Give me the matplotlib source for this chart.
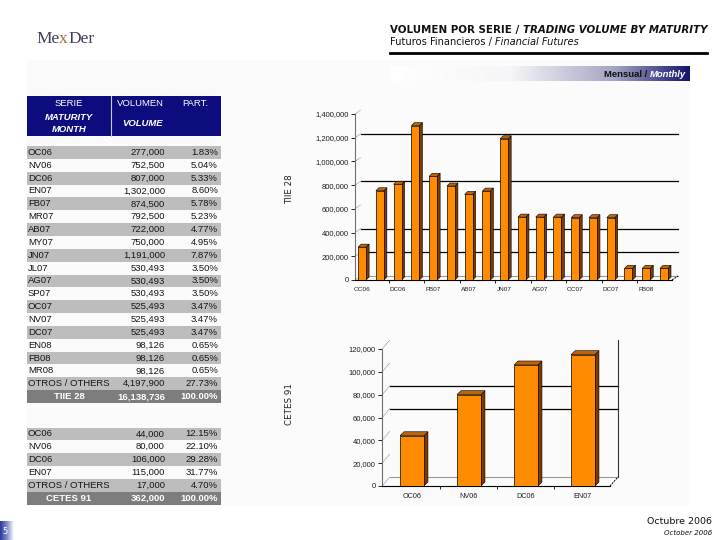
import matplotlib
matplotlib.use('Agg')
import matplotlib.pyplot as plt
import numpy as np
from matplotlib.colors import LinearSegmentedColormap
from matplotlib.patches import Rectangle
from matplotlib.ticker import FuncFormatter

# TIIE 28 futures, volume by maturity
series_tiie = ['OC06', 'NV06', 'DC06', 'EN07', 'FB07', 'MR07', 'AB07', 'MY07', 'JN07',
               'JL07', 'AG07', 'SP07', 'OC07', 'NV07', 'DC07', 'EN08', 'FB08', 'MR08']
volume_tiie = [277000, 752500, 807000, 1302000, 874500, 792500, 722000, 750000, 1191000,
               530493, 530493, 530493, 525493, 525493, 525493, 98126, 98126, 98126]
share_tiie = [1.83, 5.04, 5.33, 8.60, 5.78, 5.23, 4.77, 4.95, 7.87,
              3.50, 3.50, 3.50, 3.47, 3.47, 3.47, 0.65, 0.65, 0.65]
others_tiie = (4197900, 27.73)
total_tiie = (16138736, 100.00)

# CETES 91 futures
series_cetes = ['OC06', 'NV06', 'DC06', 'EN07']
volume_cetes = [44000, 80000, 106000, 115000]
share_cetes = [12.15, 22.10, 29.28, 31.77]
others_cetes = (17000, 4.70)
total_cetes = (362000, 100.00)

W, H = 720, 540
fig = plt.figure(figsize=(7.2, 5.4), dpi=100)
bg = fig.add_axes([0, 0, 1, 1], zorder=0)
bg.set_xlim(0, W)
bg.set_ylim(H, 0)
bg.axis('off')

SANS = 'Liberation Sans'
VERD = 'DejaVu Sans'


def chain(prev, s, **kw):
    # put a text right after the previous one, on the same baseline
    return bg.annotate(s, xy=(1, 0), xycoords=prev, ha='left', va='bottom', **kw)


# faint page panel
bg.add_patch(Rectangle((27, 60), 663, 446, color='#fbfbfb', lw=0, zorder=0))

# logo
t = bg.text(36, 43, 'Me', fontsize=12.5, family='Liberation Serif', color='#3e3e5a')
t = chain(t, 'x', fontsize=12.5, family='Liberation Serif', color='#a0703a')
chain(t, 'Der', fontsize=12.5, family='Liberation Serif', color='#3e3e5a')

# header
t = bg.text(390, 33, 'VOLUMEN POR SERIE / ', fontsize=7.4, family=VERD, weight='bold',
            color='#111111')
chain(t, 'TRADING VOLUME BY MATURITY', fontsize=7.4, family=VERD, weight='bold',
      style='italic', color='#111111')
t = bg.text(390, 45, 'Futuros Financieros / ', fontsize=7.1, family=VERD, color='#111111')
chain(t, 'Financial Futures', fontsize=7.1, family=VERD, style='italic', color='#111111')
bg.plot([390, 707], [53, 53], color='black', lw=2)

# "Mensual / Monthly" band
band = LinearSegmentedColormap.from_list(
    'band', [(0, '#ffffff'), (0.4, '#f6f6f8'), (0.75, '#a4a4c4'), (1, '#14146a')])
bg.imshow(np.linspace(0, 1, 256).reshape(1, -1), cmap=band, aspect='auto',
          extent=(390, 690, 81, 66), zorder=1)
tm = bg.text(686, 77, 'Monthly', fontsize=6.8, family=SANS, weight='bold', style='italic',
             color='white', ha='right', zorder=2)
bg.annotate('Mensual / ', xy=(0, 0), xycoords=tm, ha='right', va='bottom', fontsize=6.8,
            family=SANS, weight='bold', color='#111111', zorder=2)

# ---- tables ----
X0, X1 = 27, 221
STEP = 12.85
GRAY = '#bdbdbd'
DARK = '#7d7d7d'
NAVY = '#0c0c7e'

# header of the table
bg.add_patch(Rectangle((X0, 96), X1 - X0, 40, color=NAVY, lw=0, zorder=1))
bg.plot([111, 111], [96, 136], color='#c8c8e8', lw=0.8, zorder=2)
hkw = dict(fontsize=6.8, family=SANS, color='white', ha='center', va='center', zorder=3)
bg.text(69, 104, 'SERIE', **hkw)
bg.text(69, 117, 'MATURITY', weight='bold', style='italic', **hkw)
bg.text(69, 129, 'MONTH', weight='bold', style='italic', **hkw)
bg.text(140, 104, 'VOLUMEN', **hkw)
bg.text(143, 124, 'VOLUME', weight='bold', style='italic', **hkw)
bg.text(195, 104, 'PART.', **hkw)


def draw_table(top, labels, vols, shares, others, total, total_name):
    rows = list(zip(labels, vols, shares)) + [('OTROS / OTHERS', others[0], others[1])]
    kw = dict(fontsize=6.8, family=SANS, color='#161616', va='center', zorder=3)
    for i, (lab, v, s) in enumerate(rows):
        y = top + i * STEP
        if i % 2 == 0:
            bg.add_patch(Rectangle((X0, y), X1 - X0, STEP, color=GRAY, lw=0, zorder=1))
        yc = y + STEP / 2
        bg.text(28, yc, lab, ha='left', **kw)
        bg.text(165, yc, f'{v:,}', ha='right', **kw)
        bg.text(218, yc, f'{s:.2f}%', ha='right', **kw)
    y = top + len(rows) * STEP
    bg.add_patch(Rectangle((X0, y), X1 - X0, STEP, color=DARK, lw=0, zorder=1))
    kw.update(color='white', weight='bold')
    yc = y + STEP / 2
    bg.text(69, yc, total_name, ha='center', **kw)
    bg.text(165, yc, f'{total[0]:,}', ha='right', **kw)
    bg.text(218, yc, f'{total[1]:.2f}%', ha='right', **kw)


draw_table(146, series_tiie, volume_tiie, share_tiie, others_tiie, total_tiie, 'TIIE 28')
draw_table(427.5, series_cetes, volume_cetes, share_cetes, others_cetes, total_cetes, 'CETES 91')


# ---- 3D-looking bar charts ----
def bar_chart(box, xlim, ymax, ystep, cats, vals, bar_w, bar_d, wall_d, grid_vals,
              label_every):
    left, top, right, bottom = box
    ax = fig.add_axes([left / W, 1 - bottom / H, (right - left) / W, (bottom - top) / H],
                      zorder=1)
    ax.patch.set_alpha(0)
    ax.set_xlim(*xlim)
    ax.set_ylim(0, ymax)
    ux = (xlim[1] - xlim[0]) / (right - left)
    uy = ymax / (bottom - top)
    wdx, wdy = wall_d[0] * ux, wall_d[1] * uy
    bdx, bdy = bar_d[0] * ux, bar_d[1] * uy

    # back wall lines
    for g in grid_vals:
        ax.plot([xlim[0] + wdx, xlim[1] + wdx], [g + wdy, g + wdy], color='black', lw=0.9,
                zorder=1, clip_on=False)
    ax.plot([xlim[0] + wdx, xlim[1] + wdx], [wdy, wdy], color='#9a9a9a', lw=0.8,
            zorder=1, clip_on=False)
    ax.plot([xlim[1], xlim[1] + wdx], [0, wdy], color='black', lw=0.7, ls=(0, (2, 1)),
            zorder=1, clip_on=False)
    yt = np.arange(0, ymax + 1, ystep)
    for y in yt:
        ax.plot([xlim[0], xlim[0] + wdx], [y, y + wdy], color='#555555', lw=0.5,
                ls=(0, (1, 1)), zorder=1, clip_on=False)

    # bars with side and top faces
    x = np.arange(len(vals))
    for xi, v in zip(x, vals):
        l, r = xi - bar_w / 2, xi + bar_w / 2
        ax.fill([r, r + bdx, r + bdx, r], [0, bdy, v + bdy, v], color='#7a3a00',
                ec='black', lw=0.4, zorder=2, clip_on=False)
        ax.fill([l, l + bdx, r + bdx, r], [v, v + bdy, v + bdy, v], color='#c0620a',
                ec='black', lw=0.4, zorder=2, clip_on=False)
    ax.bar(x, vals, bar_w, color='#ff8c00', edgecolor='black', lw=0.5, zorder=3)

    ax.set_yticks(yt)
    ax.yaxis.set_major_formatter(FuncFormatter(lambda v, p: f'{int(v):,}'))
    ax.tick_params(axis='y', labelsize=5.5, length=3, width=0.6, pad=1.5,
                   labelcolor='#1e1e1e')
    for lab in ax.get_yticklabels():
        lab.set_family(SANS)
    ax.set_xticks(np.arange(0.5 + (label_every - 1), len(vals) - 1, label_every))
    ax.set_xticklabels([])
    ax.set_xticks(x[::label_every], minor=True)
    ax.set_xticklabels(cats[::label_every], minor=True, family=SANS)
    ax.tick_params(axis='x', which='major', length=2.5, width=0.6)
    ax.tick_params(axis='x', which='minor', length=0, pad=5,
                   labelsize=4.6 if label_every > 1 else 5.2, labelcolor='#1e1e1e')
    for s in ('top', 'right'):
        ax.spines[s].set_visible(False)
    ax.spines['left'].set_color('#707070')
    ax.spines['left'].set_linewidth(0.8)
    ax.spines['bottom'].set_linewidth(0.8)
    return ax


bar_chart((355, 114, 672, 280), (-0.4, 17.45), 1400000, 200000, series_tiie, volume_tiie,
          0.45, (3, 3), (6, 4), [200000, 400000, 800000, 1200000], 2)
ax2 = bar_chart((382, 349, 610, 486), (-0.526, 3.474), 120000, 20000, series_cetes,
                volume_cetes, 0.42, (4, 4), (8, 9), [60000, 80000], 1)
# right wall edge of the lower chart
ux2 = 4.0 / 228
uy2 = 120000 / 137
ax2.plot([3.474 + 8 * ux2] * 2, [9 * uy2, 120000 + 9 * uy2], color='#333333', lw=0.8,
         clip_on=False, zorder=1)

# axis titles
bg.text(290, 189, 'TIIE 28', rotation=90, fontsize=6.3, family=VERD, color='#222222',
        ha='center', va='center')
bg.text(290, 404, 'CETES 91', rotation=90, fontsize=6.3, family=VERD, color='#222222',
        ha='center', va='center')

# footer
page = LinearSegmentedColormap.from_list('page', ['#2a3a9a', '#7f8ccc', '#ffffff'])
bg.imshow(np.linspace(0, 1, 64).reshape(1, -1), cmap=page, aspect='auto',
          extent=(0, 14, 540, 521), zorder=1)
bg.text(5, 531, '5', fontsize=6, family=VERD, color='white', ha='center', va='center',
        zorder=2)
bg.text(712, 521, 'Octubre 2006', fontsize=6.8, family=VERD, color='#111111',
        ha='right', va='center')
bg.text(712, 533, 'October 2006', fontsize=5, family=VERD, style='italic',
        color='#111111', ha='right', va='center')

bg.set_xlim(0, W)
bg.set_ylim(H, 0)
fig.savefig('out.png', dpi=100)
